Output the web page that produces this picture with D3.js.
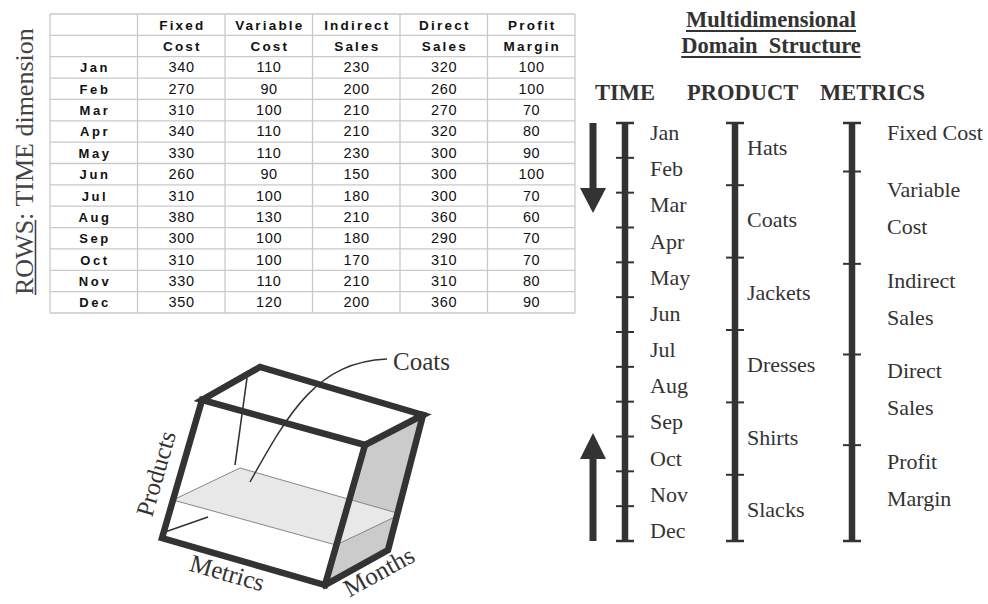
<!DOCTYPE html>
<html><head><meta charset="utf-8">
<script src="https://cdn.jsdelivr.net/npm/d3@7"></script>
<style>body{margin:0;background:#fff;overflow:hidden}</style>
</head><body><svg id="c" width="988" height="604"></svg>
<script>
// ---------- DATA ----------
const months = ["Jan","Feb","Mar","Apr","May","Jun","Jul","Aug","Sep","Oct","Nov","Dec"];
const headerTop = ["", "Fixed", "Variable", "Indirect", "Direct", "Profit"];
const headerBottom = ["", "Cost", "Cost", "Sales", "Sales", "Margin"];
const fixedCost    = [340,270,310,340,330,260,310,380,300,310,330,350];
const variableCost = [110, 90,100,110,110, 90,100,130,100,100,110,120];
const indirectSales= [230,200,210,210,230,150,180,210,180,170,210,200];
const directSales  = [320,260,270,320,300,300,300,360,290,310,310,360];
const profitMargin = [100,100, 70, 80, 90,100, 70, 60, 70, 70, 80, 90];
const products = ["Hats","Coats","Jackets","Dresses","Shirts","Slacks"];
const metrics = ["Fixed Cost","Variable Cost","Indirect Sales","Direct Sales","Profit Margin"];
const dims = ["TIME","PRODUCT","METRICS"];
const cubeAxes = ["Products","Metrics","Months"];
const sliceLabel = "Coats";
const sideTitle = ["ROWS", ": TIME dimension"];
const mainTitle = ["Multidimensional", "Domain  Structure"];

// ---------- SETUP ----------
const svg = d3.select("#c");
const DARK = "#333";
const SERIF = "'Liberation Serif','Times New Roman',serif";
const SANS = "'Liberation Sans',Arial,Helvetica,sans-serif";

// ---------- TABLE ----------
const series = [fixedCost, variableCost, indirectSales, directSales, profitMargin];
const tableRows = [headerTop, headerBottom].concat(
  months.map((m, i) => [m].concat(series.map(s => String(s[i]))))
);
const colX = d3.scaleBand().domain(d3.range(6)).range([50, 575]);
const rowY = d3.scaleBand().domain(d3.range(tableRows.length)).range([14, 313]);
const tbl = svg.append("g");
const colEdges = d3.range(7).map(i => i < 6 ? colX(i) : colX(5) + colX.bandwidth());
const rowEdges = d3.range(tableRows.length + 1).map(i => i < tableRows.length ? rowY(i) : rowY(tableRows.length - 1) + rowY.bandwidth());
tbl.selectAll("line.v").data(colEdges).join("line")
  .attr("x1", d => d).attr("x2", d => d).attr("y1", rowEdges[0]).attr("y2", rowEdges[rowEdges.length - 1])
  .attr("stroke", "#c9c9c9").attr("stroke-width", 1.3);
tbl.selectAll("line.h").data(rowEdges).join("line")
  .attr("y1", d => d).attr("y2", d => d).attr("x1", colEdges[0]).attr("x2", colEdges[6])
  .attr("stroke", "#c9c9c9").attr("stroke-width", 1.3);
tableRows.forEach((row, r) => {
  row.forEach((cell, c) => {
    if (!cell) return;
    const bold = r < 2 || c === 0;
    const ls = r < 2 ? 2.2 : (c === 0 ? 2.6 : 0.6);
    tbl.append("text")
      .attr("x", colX(c) + colX.bandwidth() / 2 + ls / 2)
      .attr("y", rowY(r) + rowY.bandwidth() / 2 + 5)
      .attr("text-anchor", "middle")
      .attr("font-family", SANS)
      .attr("font-weight", bold ? "bold" : "normal")
      .attr("font-size", r < 2 ? 13.5 : (bold ? 13 : 14.5))
      .attr("letter-spacing", ls)
      .attr("fill", "#111")
      .text(cell);
  });
});

// ---------- SIDE TITLE (rotated) ----------
const side = svg.append("g").attr("transform", "translate(33,295) rotate(-90)");
const sideText = side.append("text").attr("font-family", SERIF).attr("font-size", 26).attr("fill", "#444");
const t1 = sideText.append("tspan").text(sideTitle[0]);
sideText.append("tspan").style("white-space", "pre").text(sideTitle[1]);
const ulen = t1.node().getComputedTextLength();
side.append("line").attr("x1", 0).attr("x2", ulen).attr("y1", 2.5).attr("y2", 2.5)
  .attr("stroke", "#444").attr("stroke-width", 1.6);

// ---------- MAIN TITLE ----------
mainTitle.forEach((t, i) => {
  const y = 27 + i * 26;
  const tx = svg.append("text").attr("x", 771).attr("y", y).attr("text-anchor", "middle")
    .attr("font-family", SERIF).attr("font-weight", "bold").attr("font-size", 22.5)
    .attr("fill", DARK).style("white-space", "pre").text(t);
  const w = tx.node().getComputedTextLength();
  svg.append("line").attr("x1", 771 - w / 2).attr("x2", 771 + w / 2)
    .attr("y1", y + 4).attr("y2", y + 4).attr("stroke", DARK).attr("stroke-width", 2);
});

// dimension headers
const dimX = [595, 687, 820];
dims.forEach((d, i) => {
  svg.append("text").attr("x", dimX[i]).attr("y", 100)
    .attr("font-family", SERIF).attr("font-weight", "bold").attr("font-size", 22.5)
    .attr("fill", DARK).text(d);
});

// ---------- DIMENSION BARS ----------
const barTop = 123, barBot = 541;
function bar(x, ticks) {
  const g = svg.append("g");
  g.append("line").attr("x1", x).attr("x2", x).attr("y1", barTop).attr("y2", barBot)
    .attr("stroke", DARK).attr("stroke-width", 6.5);
  [barTop, barBot].forEach(y => g.append("line").attr("x1", x - 9).attr("x2", x + 9)
    .attr("y1", y).attr("y2", y).attr("stroke", DARK).attr("stroke-width", 2.5));
  g.selectAll("line.t").data(ticks).join("line")
    .attr("x1", x - 9).attr("x2", x + 9).attr("y1", d => d).attr("y2", d => d)
    .attr("stroke", DARK).attr("stroke-width", 2);
}
function label(x, y, t) {
  svg.append("text").attr("x", x).attr("y", y).attr("font-family", SERIF)
    .attr("font-size", 22).attr("fill", DARK).text(t);
}

// TIME
const timeBand = d3.scaleBand().domain(months).range([barTop, barBot]);
const timeLabel = d3.scalePoint().domain(months).range([140, 538]);
bar(625, months.slice(1).map(m => timeBand(m)));
months.forEach(m => label(650, timeLabel(m), m));

// PRODUCT
const prodLabel = d3.scalePoint().domain(products).range([155, 517]);
bar(735, products.slice(1).map((p, i) => (prodLabel(products[i]) + prodLabel(p)) / 2 - 6));
products.forEach(p => label(747, prodLabel(p), p));

// METRICS
const lineH = 37;
const metricY = d3.scaleLinear().domain([1, metrics.length - 1]).range([197, 469]);
const metricLines = metrics.map((m, i) => i === 0 ? [m] : m.split(" "));
const metricFirst = metrics.map((m, i) => i === 0 ? 140 : metricY(i));
const metricLast = metricFirst.map((y, i) => y + (metricLines[i].length - 1) * lineH);
bar(852, metrics.slice(1).map((m, i) => (metricLast[i] + metricFirst[i + 1]) / 2 + 3));
metricLines.forEach((lines, i) => lines.forEach((t, j) => label(887, metricFirst[i] + j * lineH, t)));

// ARROWS
const ax = 593;
svg.append("line").attr("x1", ax).attr("x2", ax).attr("y1", barTop).attr("y2", 192)
  .attr("stroke", DARK).attr("stroke-width", 7);
svg.append("path").attr("d", `M${ax - 13},188 L${ax + 13},188 L${ax},213 Z`).attr("fill", DARK);
svg.append("line").attr("x1", ax).attr("x2", ax).attr("y1", 456).attr("y2", barBot)
  .attr("stroke", DARK).attr("stroke-width", 7);
svg.append("path").attr("d", `M${ax - 13},459 L${ax + 13},459 L${ax},433 Z`).attr("fill", DARK);

// ---------- CUBE ----------
const A = [260, 367], B = [202, 400], C = [365, 445], D = [423, 415],
      E = [162, 538], F = [325, 585], G = [388, 550];
const cube = svg.append("g");
const line = d3.line();
cube.append("path").attr("d", line([C, D, G, F]) + "Z").attr("fill", "#cbcbcb");
// slice
cube.append("path").attr("d", line([[173, 500], [240, 468], [397, 513], [397, 516], [336, 545]]) + "Z")
  .attr("fill", "#e8e8e8").attr("stroke", "#7a7a7a").attr("stroke-width", 0.9);
// hidden edges (partial)
cube.append("path").attr("d", line([[247, 378], [235, 465]])).attr("stroke", DARK).attr("stroke-width", 1.6);
cube.append("path").attr("d", line([[165, 532], [208, 517]])).attr("stroke", DARK).attr("stroke-width", 1.6);
// thick frame
const frame = { stroke: DARK, "stroke-width": 6.5, fill: "none", "stroke-linejoin": "miter", "stroke-linecap": "square" };
function fpath(pts, closed) {
  const p = cube.append("path").attr("d", line(pts) + (closed ? "Z" : ""));
  Object.entries(frame).forEach(([k, v]) => p.attr(k, v));
}
fpath([A, B, C, D], true);
fpath([B, E, F, C], false);
fpath([D, G, F], false);
// leader
cube.append("path").attr("d", "M250,482 C290,410 318,362 387,359")
  .attr("fill", "none").attr("stroke", DARK).attr("stroke-width", 1.5);
cube.append("text").attr("x", 393).attr("y", 370).attr("font-family", SERIF)
  .attr("font-size", 25).attr("fill", DARK).text(sliceLabel);
// axis labels
const axisPos = [[164, 476, -74], [225, 581, 16], [383, 579, -29]];
cubeAxes.forEach((t, i) => {
  const [x, y, r] = axisPos[i];
  cube.append("text").attr("transform", `translate(${x},${y}) rotate(${r})`)
    .attr("text-anchor", "middle").attr("font-family", SERIF).attr("font-size", 25)
    .attr("fill", DARK).text(t);
});
</script></body></html>
